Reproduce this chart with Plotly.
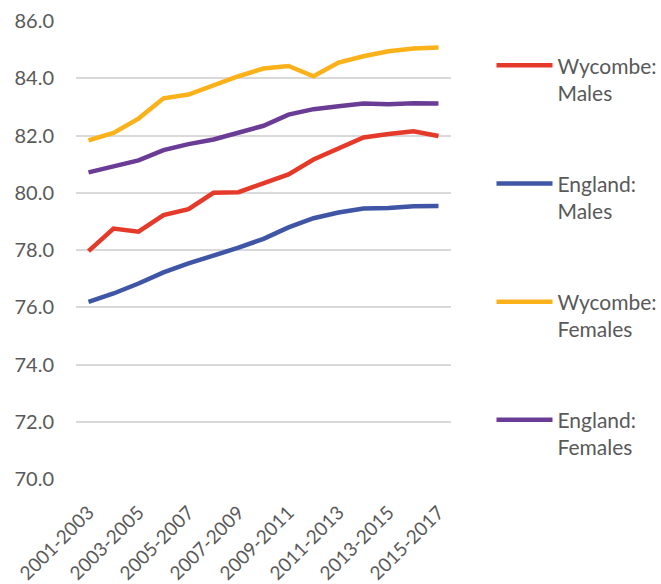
import plotly.graph_objects as go

# Three-year rolling periods
periods = [f"{y}-{y + 2}" for y in range(2001, 2016)]
period_labels = periods[::2]

# Life expectancy at birth (years)
wycombe_males = [77.96, 78.75, 78.64, 79.22, 79.43, 80.00, 80.02, 80.33, 80.64,
                 81.16, 81.55, 81.93, 82.05, 82.15, 81.98]
england_males = [76.19, 76.48, 76.83, 77.22, 77.53, 77.79, 78.08, 78.39, 78.79,
                 79.11, 79.31, 79.45, 79.47, 79.53, 79.54]
wycombe_females = [81.83, 82.09, 82.59, 83.30, 83.43, 83.76, 84.07, 84.34, 84.43,
                   84.07, 84.55, 84.77, 84.94, 85.04, 85.07]
england_females = [80.71, 80.90, 81.13, 81.49, 81.70, 81.86, 82.10, 82.34, 82.73,
                    82.92, 83.02, 83.12, 83.09, 83.13, 83.12]

series = [
    ("Wycombe:<br>Males", wycombe_males, "#E5392A", "legend"),
    ("England:<br>Males", england_males, "#3F56A6", "legend2"),
    ("Wycombe:<br>Females", wycombe_females, "#FBB21A", "legend3"),
    ("England:<br>Females", england_females, "#6A3C96", "legend4"),
]

FONT = "Lato, 'Open Sans', sans-serif"
GREY = "#595959"

fig = go.Figure()
for name, values, colour, leg in series:
    fig.add_trace(go.Scatter(
        x=periods, y=values, name=name, mode="lines",
        line=dict(color=colour, width=4.5),
        legend=leg,
    ))

legend_style = dict(
    font=dict(family=FONT, size=21, color=GREY),
    bgcolor="rgba(0,0,0,0)",
    itemwidth=56,
    valign="top",
    xanchor="left",
    yanchor="middle",
)

layout_legends = {}
for leg, ypos in zip(["legend", "legend2", "legend3", "legend4"],
                     [0.873, 0.615, 0.357, 0.099]):
    layout_legends[leg] = dict(legend_style, x=1.108, y=ypos)

fig.update_layout(
    template="none",
    width=661, height=584,
    margin=dict(l=76, r=210, t=21, b=105, autoexpand=False),
    paper_bgcolor="white", plot_bgcolor="white",
    font=dict(family=FONT, size=21, color=GREY),
    showlegend=True,
    xaxis=dict(
        type="category", range=[-0.5, len(periods) - 0.5],
        tickmode="array", tickvals=period_labels, ticktext=period_labels,
        tickangle=-45, showgrid=False, showline=False, zeroline=False,
        ticks="outside", ticklen=14, tickcolor="rgba(0,0,0,0)",
        automargin=False,
        tickfont=dict(family=FONT, size=19, color=GREY),
    ),
    yaxis=dict(
        range=[70, 86], dtick=2, tick0=70, tickformat=".1f",
        showgrid=True, gridcolor="#D9D9D9", gridwidth=2,
        zeroline=False, showline=False,
        ticks="outside", ticklen=17, tickcolor="rgba(0,0,0,0)",
        automargin=False,
        tickfont=dict(family=FONT, size=20, color=GREY),
    ),
    **layout_legends,
)

fig.write_html("out.html")
